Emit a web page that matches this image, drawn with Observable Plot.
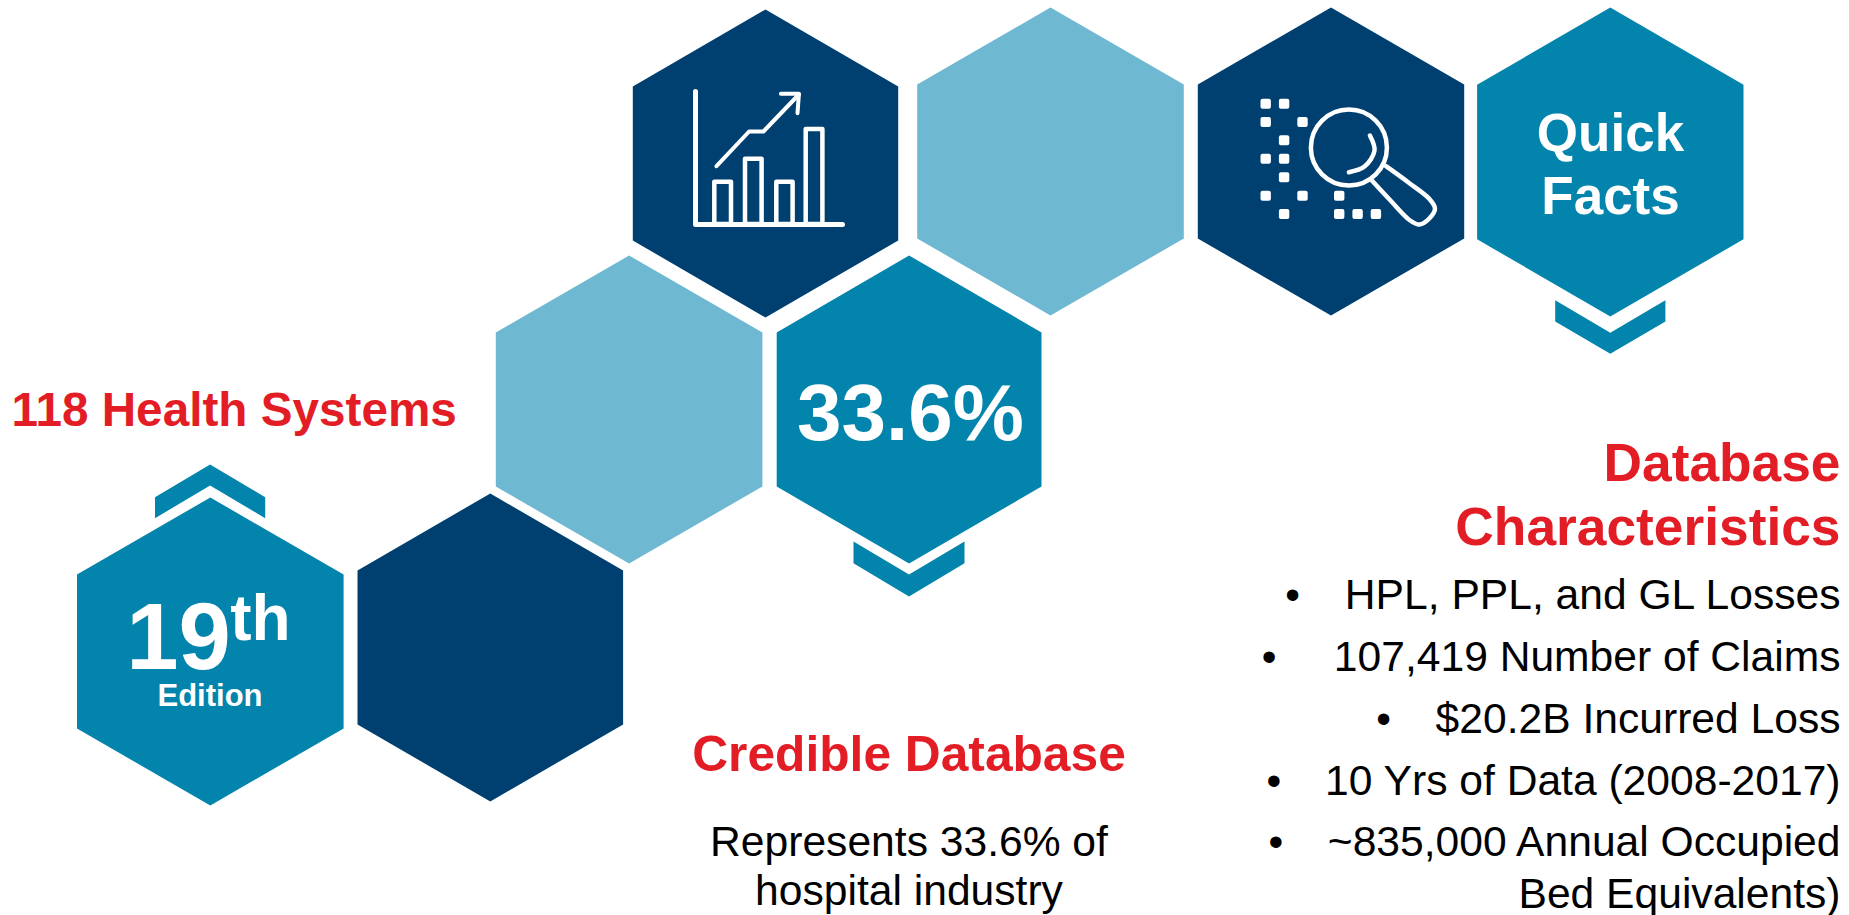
<!DOCTYPE html>
<html>
<head>
<meta charset="utf-8">
<script src="https://cdn.jsdelivr.net/npm/d3@7"></script>
<script src="https://cdn.jsdelivr.net/npm/@observablehq/plot@0.6"></script>
<style>
html,body{margin:0;padding:0;background:#fff;overflow:hidden}
svg{display:block}
</style>
</head>
<body>
<div id="chart"></div>
<script>
const DARK = "#004071", TEAL = "#0384AC", LIGHT = "#6EB8D2", RED = "#E31D25";
const FONT = "Liberation Sans, Arial, sans-serif";

// Hexagons: name, centre, half width, half height
const hexNames   = ["chart", "lightTop", "search", "quick", "lightMid", "pct", "edition", "darkLow"];
const hexCx      = [765, 1050, 1330.5, 1609.8, 628.6, 908.6, 209.8, 489.8];
const hexCy      = [163, 161, 161, 161.5, 409, 409, 651, 647];
const hexHalfW   = [132.7, 133.3, 133.2, 133.2, 133.3, 132.4, 133.3, 132.8];
const hexHalfH   = [154, 154, 154, 154.5, 154, 154, 154, 154];
const hexFill    = [DARK, LIGHT, DARK, TEAL, LIGHT, TEAL, TEAL, DARK];

// Chevrons: centre x, half width, outer tip y, notch y, side outer y, side inner y
const chevCx     = [1609.8, 908.5, 209.6];
const chevHalfW  = [55.1, 55.5, 55.1];
const chevTip    = [353.3, 596, 464];
const chevNotch  = [332.3, 574, 485];
const chevSideO  = [321, 562.7, 496.7];
const chevSideI  = [299.7, 541, 517.7];

// Chart icon
const iconAxis   = [[695, 91], [695, 224], [842, 224]];
const barLeft    = [714.3, 745, 776.3, 805.7];
const barRight   = [731, 761.6, 792.6, 822.4];
const barTop     = [181.7, 158.7, 181.7, 129];
const barBase    = 224;
const trendLine  = [[716, 165.7], [748.6, 131], [762.9, 131], [798.4, 94]];
const trendHead  = [[780.4, 93.3], [798.4, 93.3], [797, 112.7]];

// Magnifier icon
const pixelDots  = [
  [1265.7, 103.7], [1284.1, 103.7],
  [1265.7, 122], [1302.5, 122],
  [1284.1, 140.3],
  [1265.7, 158.7], [1284.1, 158.7],
  [1284.1, 177.3],
  [1265.7, 195.7], [1302.5, 195.7], [1339.2, 195.7],
  [1284.1, 214], [1339.2, 214], [1357.6, 214], [1375.9, 214]
];
const lens       = [[1348.4, 147]];
const lensGlare  = [[1369.4, 135], [1374, 150], [1364, 166], [1348.4, 171.7]];
const handle     = [[1385.5, 165.7], [1408, 182], [1428.8, 198.3], [1434.5, 208], [1428.8, 218], [1419, 224], [1409.6, 220], [1390, 200], [1371.4, 180]];

// Texts
const labels = [
  {t: "Quick", x: 1610, y: 150, s: 53, w: "bold", c: "#fff", a: "middle"},
  {t: "Facts", x: 1610, y: 213.3, s: 53, w: "bold", c: "#fff", a: "middle"},
  {t: "19", x: 178, y: 668.3, s: 94, w: "bold", c: "#fff", a: "middle"},
  {t: "th", x: 260, y: 639, s: 64, w: "bold", c: "#fff", a: "middle"},
  {t: "Edition", x: 209.5, y: 705.7, s: 31, w: "bold", c: "#fff", a: "middle"},
  {t: "33.6%", x: 910, y: 439, s: 80, w: "bold", c: "#fff", a: "middle"},
  {t: "118 Health Systems", x: 11, y: 425, s: 47.7, w: "bold", c: RED, a: "start"},
  {t: "Credible Database", x: 908.5, y: 770, s: 49.7, w: "bold", c: RED, a: "middle"},
  {t: "Represents 33.6% of", x: 908.5, y: 855, s: 42.6, w: "normal", c: "#000", a: "middle"},
  {t: "hospital industry", x: 908.5, y: 904, s: 42.6, w: "normal", c: "#000", a: "middle"},
  {t: "Database", x: 1840, y: 480, s: 53.3, w: "bold", c: RED, a: "end"},
  {t: "Characteristics", x: 1840, y: 544, s: 53.3, w: "bold", c: RED, a: "end"},
  {t: "HPL, PPL, and GL Losses", x: 1840, y: 608, s: 42.6, w: "normal", c: "#000", a: "end"},
  {t: "107,419 Number of Claims", x: 1840, y: 670, s: 42.6, w: "normal", c: "#000", a: "end"},
  {t: "$20.2B Incurred Loss", x: 1840, y: 732, s: 42.6, w: "normal", c: "#000", a: "end"},
  {t: "10 Yrs of Data (2008-2017)", x: 1840, y: 794, s: 42.6, w: "normal", c: "#000", a: "end"},
  {t: "~835,000 Annual Occupied", x: 1840, y: 855, s: 42.6, w: "normal", c: "#000", a: "end"},
  {t: "Bed Equivalents)", x: 1840, y: 907, s: 42.6, w: "normal", c: "#000", a: "end"}
];
const bullets = [[1292, 608], [1268.7, 670], [1383, 732], [1273.4, 794], [1275.4, 855]];

// Build vertex tables
const hexRows = hexNames.flatMap((name, i) => {
  const cx = hexCx[i], cy = hexCy[i], w = hexHalfW[i], h = hexHalfH[i];
  return [[cx, cy - h], [cx + w, cy - h / 2], [cx + w, cy + h / 2], [cx, cy + h], [cx - w, cy + h / 2], [cx - w, cy - h / 2], [cx, cy - h]]
    .map(([x, y]) => ({name, x, y, fill: hexFill[i]}));
});
const chevRows = chevCx.flatMap((cx, i) => {
  const w = chevHalfW[i];
  return [[cx - w, chevSideI[i]], [cx, chevNotch[i]], [cx + w, chevSideI[i]], [cx + w, chevSideO[i]], [cx, chevTip[i]], [cx - w, chevSideO[i]], [cx - w, chevSideI[i]]]
    .map(([x, y]) => ({id: i, x, y}));
});
const barRows = barLeft.map((l, i) => ({x1: l, x2: barRight[i], y1: barTop[i], y2: barBase}));
const px = d => d[0], py = d => d[1];
const textMark = rows => Plot.text(rows, {
  x: "x", y: "y", text: "t", fontSize: "s", fill: "c",
  fontWeight: rows[0].w, textAnchor: rows[0].a, lineAnchor: "bottom", fontFamily: FONT
});
const stroke = (data, sw, curve = "linear") => Plot.line(data, {x: px, y: py, stroke: "#fff", strokeWidth: sw, strokeLinecap: "round", strokeLinejoin: "round", curve});

const plot = Plot.plot({
  width: 1849, height: 915,
  margin: 0,
  style: {background: "#fff"},
  x: {domain: [0, 1849], range: [0, 1849], axis: null},
  y: {domain: [0, 915], range: [0, 915], axis: null},
  marks: [
    Plot.line(hexRows, {x: "x", y: "y", z: "name", fill: "fill", stroke: null}),
    Plot.line(chevRows, {x: "x", y: "y", z: "id", fill: TEAL, stroke: null}),
    stroke(iconAxis, 5),
    Plot.rect(barRows, {x1: "x1", x2: "x2", y1: "y1", y2: "y2", fill: "none", stroke: "#fff", strokeWidth: 4.5, strokeLinejoin: "round"}),
    stroke(trendLine, 4),
    stroke(trendHead, 4),
    Plot.rect(pixelDots, {x1: d => d[0] - 5.2, x2: d => d[0] + 5.2, y1: d => d[1] - 5, y2: d => d[1] + 5, fill: "#fff", rx: 2}),
    Plot.dot(lens, {x: px, y: py, r: 38, stroke: "#fff", strokeWidth: 4.5, fill: "none"}),
    stroke(lensGlare, 4.5, "catmull-rom"),
    stroke(handle, 4.5, "catmull-rom"),
    ...d3.groups(labels, d => d.a + d.w).map(([, rows]) => textMark(rows)),
    Plot.text(bullets, {x: px, y: py, text: () => "•", fontSize: 42, fontFamily: FONT, fill: "#000", textAnchor: "middle", lineAnchor: "bottom"})
  ]
});
document.getElementById("chart").appendChild(plot);
</script>
</body>
</html>
